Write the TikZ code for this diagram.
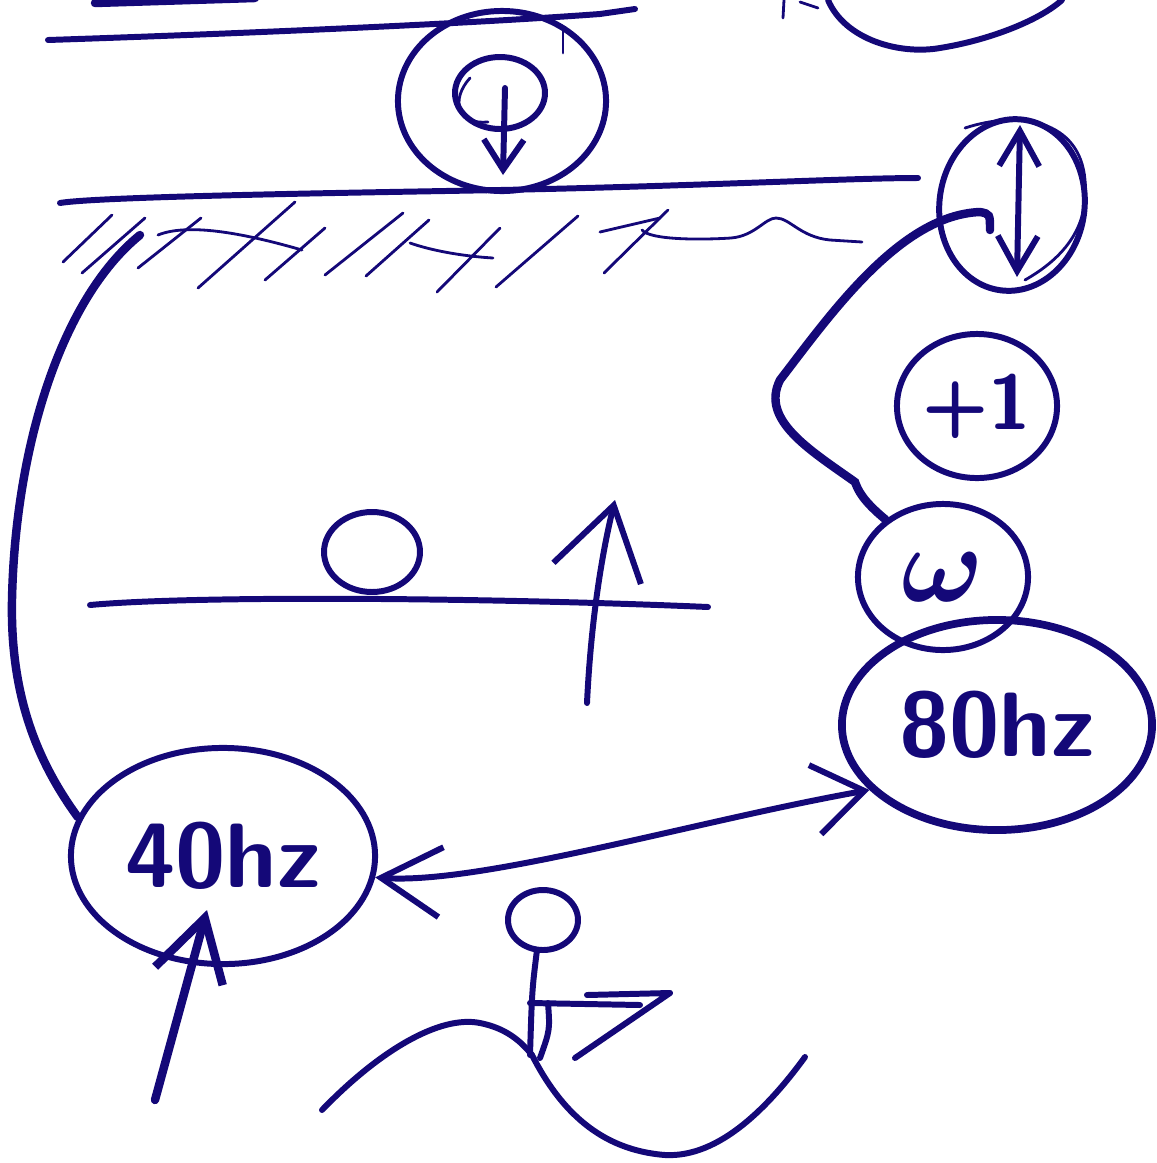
\documentclass[tikz,border=0pt]{standalone}
\usepackage{amsmath}
\usetikzlibrary{shapes.geometric,arrows.meta}
\definecolor{ink}{RGB}{20,8,120}
\tikzset{
  pen/.style={draw=ink, line width=1.7pt, line cap=round, line join=round},
  thinpen/.style={draw=ink, line width=0.8pt, line cap=round},
  heavypen/.style={draw=ink, line width=2.4pt, line cap=round},
  blob/.style={ellipse, pen, inner sep=0pt, text=ink,
    font=\sffamily\bfseries\fontsize{26}{26}\selectfont},
  barb/.style={-{Straight Barb[length=6mm,width=7mm]}},
}
\begin{document}
\begin{tikzpicture}[x=0.01cm, y=-0.01cm]
  \useasboundingbox (0,0) rectangle (1156,1163);
  % ellipses
  \node[blob, minimum width=2.08cm, minimum height=1.8cm] (phi) at (502,101) {};
  \node[blob, minimum width=1.45cm, minimum height=1.72cm, rotate=-8] (updown) at (1012,205) {};
  \node[blob, minimum width=1.6cm, minimum height=1.44cm,
    font=\sffamily\bfseries\fontsize{22}{22}\selectfont] (plusone) at (977,406) {+1};
  \node[blob, minimum width=1.7cm, minimum height=1.46cm] (omega) at (943,577) {\scalebox{1.25}{$\boldsymbol{\omega}$}};
  \node[blob, line width=2.2pt, minimum width=3.1cm, minimum height=2.1cm] (eighty) at (997,725) {80hz};
  \node[blob, minimum width=3.04cm, minimum height=2.16cm] (forty) at (223,856) {40hz};
  % free ends
  \coordinate (hatchend) at (140,235);
  \coordinate (hook) at (990,230);
  \coordinate (in40) at (207,910);
  \coordinate (from40) at (155,1100);
  % top strokes
  \draw[heavypen] (95,3) -- (255,-2);
  \draw[pen] (828,0) .. controls (845,40) and (900,55) .. (940,48)
    .. controls (990,40) and (1040,20) .. (1062,0);
  \draw[thinpen] (783,18) -- (784,0);
  \draw[thinpen] (800,2) -- (818,8);
  % the two long lines
  \draw[pen] (48,40) .. controls (200,35) and (450,25) .. (600,14) -- (635,9);
  \draw[pen] (60,203) .. controls (100,196) and (400,192) .. (500,190)
    .. controls (700,186) and (850,178) .. (918,178);
  % symbol inside phi
  \draw[pen] (500,93) ellipse [x radius=45, y radius=36];
  \draw[thinpen] (470,78) .. controls (450,100) and (458,125) .. (488,122);
  \draw[pen, -{Straight Barb[length=3mm,width=4mm]}] (505,88) -- (503,175);
  \draw[thinpen] (563,30) -- (563,53);
  % hatching
  \foreach \a/\b/\c/\d in {63/262/112/215, 82/273/145/218, 138/268/201/218,
      198/288/295/202, 265/280/325/228, 325/275/403/213, 366/276/429/220,
      437/292/500/228, 496/287/578/216, 604/273/668/210}
    \draw[thinpen] (\a,\b) -- (\c,\d);
  \draw[thinpen] (158,235) .. controls (190,222) and (250,235) .. (302,250);
  \draw[thinpen] (410,243) .. controls (430,250) and (460,256) .. (493,258);
  \draw[thinpen] (600,232) -- (660,218);
  \draw[thinpen] (642,230) .. controls (650,240) and (700,240) .. (731,238)
    .. controls (755,236) and (765,218) .. (776,218)
    .. controls (790,218) and (800,237) .. (830,240) -- (862,242);
  % double arrow in the top right ellipse
  \draw[thinpen] (965,128) .. controls (1020,110) and (1080,120) .. (1085,180)
    .. controls (1090,230) and (1060,260) .. (1025,280);
  \draw[pen, {Straight Barb[length=3.5mm,width=4mm]}-{Straight Barb[length=3.5mm,width=4mm]}]
    (1017,277) -- (1020,125);
  % connectors
  \draw[heavypen] (forty.165) .. controls (40,765) and (10,700) .. (12,600)
    .. controls (15,450) and (60,300) .. (hatchend);
  \draw[heavypen] (omega.135) .. controls (862,500) and (858,490) .. (855,482)
    .. controls (810,450) and (760,420) .. (780,380)
    .. controls (830,315) and (900,215) .. (980,212)
    .. controls (990,214) .. (hook);
  \draw[pen, {Straight Barb[length=6mm,width=7mm]}-{Straight Barb[length=5mm,width=7mm]}]
    (forty.352) .. controls (480,885) and (700,820) .. (eighty.207);
  \draw[heavypen, barb] (from40) -- (in40);
  % middle line, loop and arrow
  \draw[pen] (90,605) .. controls (200,595) and (500,598) .. (708,607);
  \draw[pen] (372,552) ellipse [x radius=48, y radius=40];
  \draw[pen, -{Straight Barb[length=7mm,width=9mm]}] (587,703)
    .. controls (590,640) and (598,570) .. (615,500);
  % little figure at the bottom
  \draw[pen] (543,920) ellipse [x radius=35, y radius=30];
  \draw[pen] (537,950) .. controls (532,990) .. (530,1055);
  \draw[pen] (548,1003) .. controls (550,1030) .. (540,1058);
  \draw[pen] (530,1003) -- (640,1005);
  \draw[pen] (587,995) -- (670,993) -- (575,1058);
  \draw[pen] (322,1110) .. controls (380,1050) and (440,1015) .. (480,1023)
    .. controls (505,1028) and (520,1040) .. (532,1055);
  \draw[pen] (532,1055) .. controls (560,1110) and (600,1150) .. (665,1155)
    .. controls (720,1158) and (770,1105) .. (805,1057);
\end{tikzpicture}
\end{document}
